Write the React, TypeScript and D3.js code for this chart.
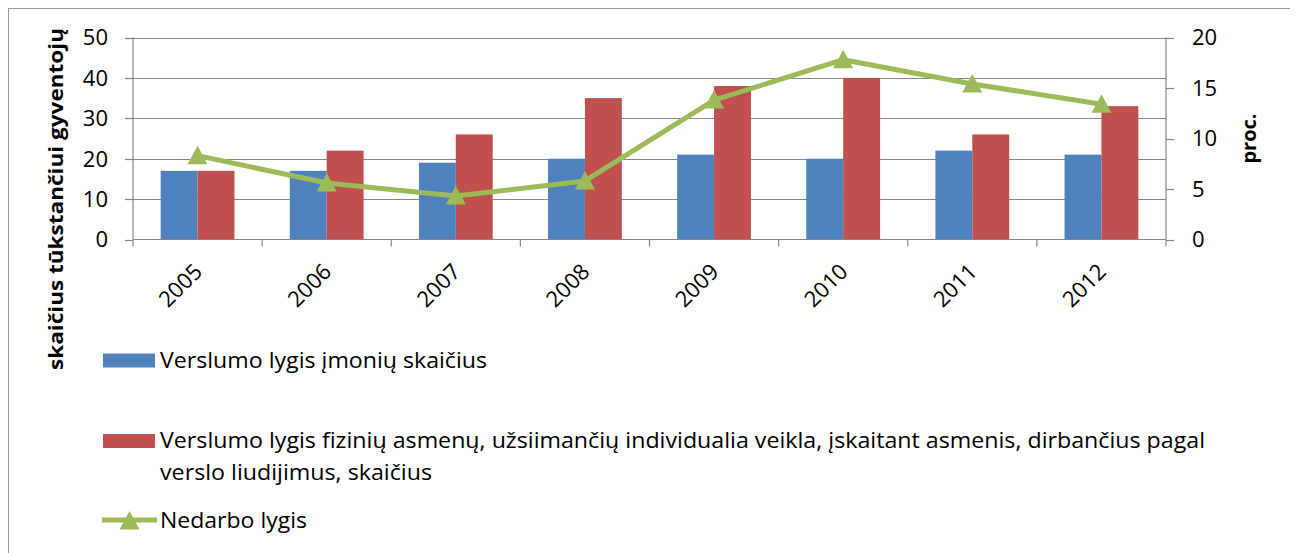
import React from "react";
import * as d3 from "d3";

const years = ["2005", "2006", "2007", "2008", "2009", "2010", "2011", "2012"];
const enterprises = [17, 17, 19, 20, 21, 20, 22, 21];
const individuals = [17, 22, 26, 35, 38, 40, 26, 33];
const unemployment = [8.3, 5.6, 4.3, 5.8, 13.8, 17.8, 15.4, 13.4];
const leftTicks = [0, 10, 20, 30, 40, 50];
const rightTicks = [0, 5, 10, 15, 20];

const seriesNames = [
  "Verslumo lygis įmonių skaičius",
  "Verslumo lygis fizinių asmenų, užsiimančių individualia veikla, įskaitant asmenis, dirbančius pagal",
  "verslo liudijimus, skaičius",
  "Nedarbo lygis",
];
const leftTitle = "skaičius tūkstančiui gyventojų";
const rightTitle = "proc.";

const BLUE = "#4F81BD";
const RED = "#C0504D";
const GREEN = "#9BBB59";
const AXIS = "#868686";
const FONT = "'Open Sans', Lato, sans-serif";

export default function App() {
  const W = 1290;
  const H = 545;
  const plotL = 133;
  const plotR = 1166;
  const plotT = 37.5;
  const plotB = 239.5;

  const x = d3.scaleBand<string>().domain(years).range([plotL, plotR]).padding(0);
  const bw = x.bandwidth() / 3.5;
  const yL = d3.scaleLinear().domain([0, 50]).range([plotB, plotT]);
  const yR = d3.scaleLinear().domain([0, 20]).range([plotB, plotT]);

  const cx = (y: string) => (x(y) as number) + x.bandwidth() / 2;
  const line = d3
    .line<number>()
    .x((_, i) => cx(years[i]))
    .y((d) => yR(d));

  const tri = "M0,-10 L10,8.5 L-10,8.5 Z";
  const boundaries = [...years.map((y) => x(y) as number), plotR];
  const fs = 21;
  const tfs = 22;

  return (
    <svg width={W} height={H} style={{ display: "block" }}>
      <g transform="translate(-8,-8)" fontFamily={FONT}>
        <rect x={8.5} y={8.5} width={1284.5} height={600} fill="#fff" stroke="#9a9a9a" strokeWidth={1} />
        {/* gridlines */}
        {leftTicks.slice(1).map((t) => (
          <line key={t} x1={plotL} x2={plotR} y1={Math.round(yL(t)) + 0.5} y2={Math.round(yL(t)) + 0.5} stroke={AXIS} strokeWidth={1.2} />
        ))}
        {/* bars */}
        {years.map((y, i) => (
          <g key={y}>
            <rect x={cx(y) - bw} y={yL(enterprises[i])} width={bw} height={plotB - yL(enterprises[i])} fill={BLUE} />
            <rect x={cx(y)} y={yL(individuals[i])} width={bw} height={plotB - yL(individuals[i])} fill={RED} />
          </g>
        ))}
        {/* left axis */}
        <line x1={plotL} x2={plotL} y1={plotT} y2={plotB} stroke={AXIS} strokeWidth={1.2} />
        {leftTicks.map((t) => (
          <g key={t}>
            <line x1={plotL - 8} x2={plotL} y1={Math.round(yL(t)) + 0.5} y2={Math.round(yL(t)) + 0.5} stroke={AXIS} strokeWidth={1.2} />
            <text x={108} y={yL(t)} dy="0.36em" textAnchor="end" fontSize={tfs} fill="#000">{t}</text>
          </g>
        ))}
        {/* bottom axis */}
        <line x1={plotL} x2={plotR} y1={plotB} y2={plotB} stroke={AXIS} strokeWidth={1.2} />
        {boundaries.map((b, i) => (
          <line key={i} x1={b} x2={b} y1={plotB} y2={plotB + 7} stroke={AXIS} strokeWidth={1.2} />
        ))}
        {years.map((y) => (
          <text key={y} transform={`translate(${cx(y) + 6},${273}) rotate(-45)`} textAnchor="end" fontSize={tfs} fill="#000">{y}</text>
        ))}
        {/* right axis */}
        <line x1={plotR} x2={plotR} y1={plotT} y2={plotB} stroke={AXIS} strokeWidth={1.2} />
        {rightTicks.map((t) => (
          <g key={t}>
            <line x1={plotR} x2={plotR + 8} y1={Math.round(yR(t)) + 0.5} y2={Math.round(yR(t)) + 0.5} stroke={AXIS} strokeWidth={1.2} />
            <text x={1192} y={yR(t)} dy="0.36em" textAnchor="start" fontSize={tfs} fill="#000">{t}</text>
          </g>
        ))}
        {/* line series */}
        <path d={line(unemployment) || ""} fill="none" stroke={GREEN} strokeWidth={5} strokeLinejoin="round" />
        {unemployment.map((v, i) => (
          <path key={i} d={tri} transform={`translate(${cx(years[i])},${yR(v)})`} fill={GREEN} />
        ))}
        {/* axis titles */}
        <text transform={`translate(63,370) rotate(-90)`} textAnchor="start" fontSize={20} fontWeight="bold" fill="#000" textLength={342} lengthAdjust="spacingAndGlyphs">{leftTitle}</text>
        <text transform={`translate(1256,${(plotT + plotB) / 2}) rotate(-90)`} textAnchor="middle" fontSize={20} fontWeight="bold" fill="#000">{rightTitle}</text>
        {/* legend */}
        <rect x={103} y={353.5} width={52} height={14} fill={BLUE} />
        <text x={160} y={367.5} fontSize={fs} fill="#000" textLength={327} lengthAdjust="spacingAndGlyphs">{seriesNames[0]}</text>
        <rect x={103} y={434} width={52} height={14} fill={RED} />
        <text x={160} y={447.5} fontSize={fs} fill="#000" textLength={1045} lengthAdjust="spacingAndGlyphs">{seriesNames[1]}</text>
        <text x={160} y={480} fontSize={fs} fill="#000" textLength={272} lengthAdjust="spacingAndGlyphs">{seriesNames[2]}</text>
        <line x1={102} x2={157} y1={520} y2={520} stroke={GREEN} strokeWidth={5} />
        <path d={tri} transform="translate(129.5,521)" fill={GREEN} />
        <text x={160} y={528} fontSize={fs} fill="#000" textLength={147} lengthAdjust="spacingAndGlyphs">{seriesNames[3]}</text>
      </g>
    </svg>
  );
}
